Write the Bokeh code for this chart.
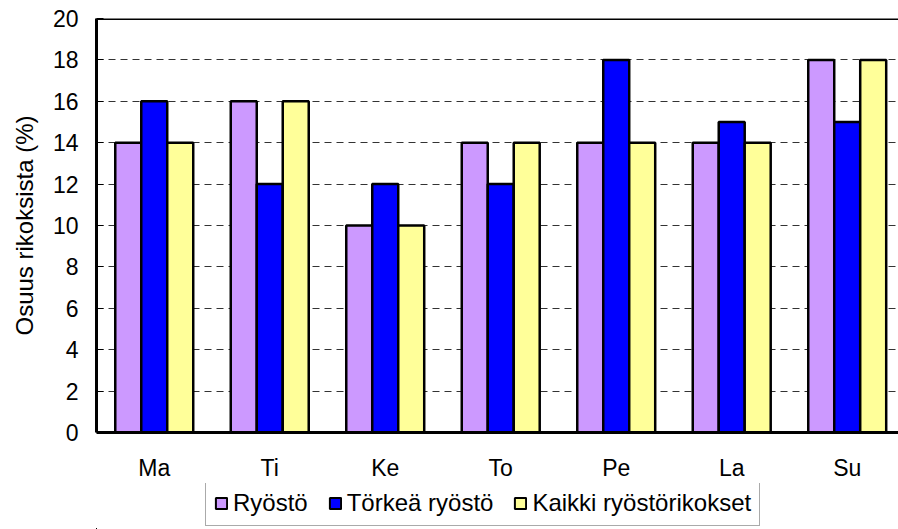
from bokeh.plotting import figure
from bokeh.layouts import column
from bokeh.models import (ColumnDataSource, Range1d, FixedTicker, Legend, LegendItem, Span)
from bokeh.embed import file_html
from bokeh.resources import INLINE

days = ["Ma", "Ti", "Ke", "To", "Pe", "La", "Su"]
series_names = ["Ryöstö", "Törkeä ryöstö", "Kaikki ryöstörikokset"]
ryosto = [14, 16, 10, 14, 14, 14, 18]
torkea = [16, 12, 12, 12, 18, 15, 15]
kaikki = [14, 16, 10, 14, 14, 14, 18]
y_ticks = [0, 2, 4, 6, 8, 10, 12, 14, 16, 18, 20]

colors = ["#CC99FF", "#0000FF", "#FFFF99"]
FONT = "Liberation Sans"

p = figure(width=898, height=483, output_backend="svg", toolbar_location=None,
           x_range=Range1d(0, 6.944), y_range=Range1d(0, 20),
           min_border_left=96, min_border_right=0, min_border_top=18,
           min_border_bottom=50)
p.outline_line_color = None
p.background_fill_color = "white"

centers = [i + 0.5 for i in range(len(days))]
bw = 0.225
offsets = [-bw, 0, bw]
series = [ryosto, torkea, kaikki]
for vals, off, col in zip(series, offsets, colors):
    src = ColumnDataSource(dict(x=[c + off for c in centers], top=vals))
    p.vbar(x="x", top="top", bottom=0, width=bw, source=src,
           fill_color=col, line_color="black", line_width=2.5)

# top border line
p.add_layout(Span(location=20, dimension="width", line_color="black", line_width=3))

# axes
p.xaxis.ticker = FixedTicker(ticks=centers)
p.xaxis.major_label_overrides = {c: d for c, d in zip(centers, days)}
p.xaxis.major_tick_line_color = None
p.xaxis.major_tick_out = 0
p.xaxis.major_tick_in = 0
p.xaxis.minor_tick_line_color = None
p.xaxis.axis_line_width = 3
p.xaxis.axis_line_color = "black"
p.xaxis.major_label_text_font = FONT
p.xaxis.major_label_text_font_size = "23px"
p.xaxis.major_label_text_color = "black"
p.xaxis.major_label_standoff = 22

p.yaxis.ticker = FixedTicker(ticks=y_ticks)
p.yaxis.minor_tick_line_color = None
p.yaxis.major_tick_in = 7
p.yaxis.major_tick_out = 0
p.yaxis.major_tick_line_width = 1
p.yaxis.axis_line_width = 3
p.yaxis.axis_line_color = "black"
p.yaxis.major_label_text_font = FONT
p.yaxis.major_label_text_font_size = "23px"
p.yaxis.major_label_text_color = "black"
p.yaxis.major_label_standoff = 18
p.yaxis.axis_label = "Osuus rikoksista (%)"
p.yaxis.axis_label_text_font = FONT
p.yaxis.axis_label_text_font_size = "24px"
p.yaxis.axis_label_text_font_style = "normal"
p.yaxis.axis_label_text_color = "black"
p.yaxis.axis_label_standoff = 12

p.xgrid.grid_line_color = None
p.ygrid.ticker = FixedTicker(ticks=y_ticks[1:-1])
p.ygrid.grid_line_color = "#333333"
p.ygrid.grid_line_dash = "7 5"
p.ygrid.grid_line_width = 1

# legend strip below the chart (its bars lie far outside its ranges, only the legend shows)
lg = figure(width=898, height=46, output_backend="svg", toolbar_location=None,
            x_range=Range1d(1000, 1006.944), y_range=Range1d(1000, 1020),
            x_axis_type=None, y_axis_type=None,
            min_border_left=96, min_border_right=0, min_border_top=0, min_border_bottom=0)
lg.outline_line_color = None
lg.xgrid.grid_line_color = None
lg.ygrid.grid_line_color = None
legend_renderers = []
for vals, off, col in zip(series, offsets, colors):
    src = ColumnDataSource(dict(x=[c + off for c in centers], top=vals))
    r = lg.vbar(x="x", top="top", bottom=0, width=bw, source=src,
                fill_color=col, line_color="black", line_width=2)
    legend_renderers.append(r)

legend = Legend(items=[LegendItem(label=n, renderers=[r]) for n, r in zip(series_names, legend_renderers)],
                orientation="horizontal", location=(109, 3),
                label_text_font=FONT, label_text_font_size="24px",
                label_text_color="black",
                glyph_width=14, glyph_height=14, label_standoff=5, spacing=20,
                padding=8, margin=0,
                border_line_color="#555555", border_line_width=1,
                background_fill_alpha=1)
lg.add_layout(legend, "center")

layout = column(p, lg, spacing=0)
open("out.html", "w").write(file_html(layout, INLINE))
